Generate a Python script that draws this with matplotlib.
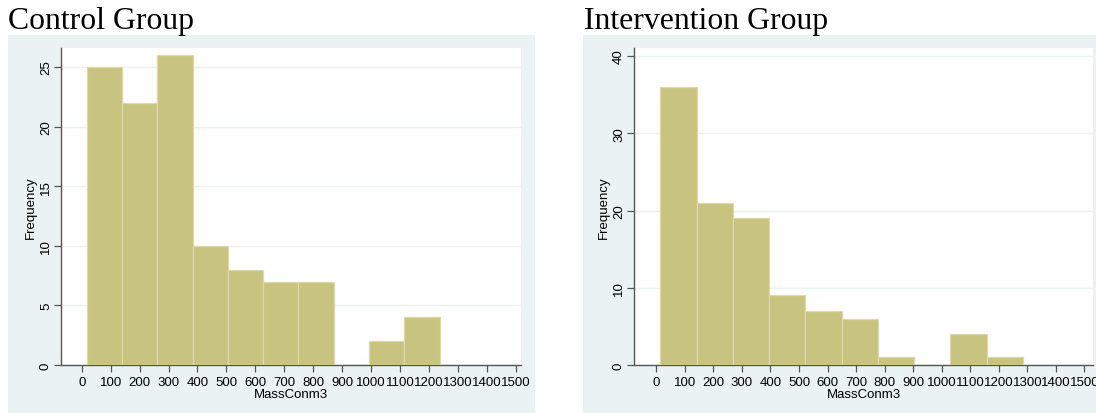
import matplotlib
matplotlib.use("Agg")
import matplotlib.pyplot as plt
import numpy as np
from matplotlib.patches import Rectangle

# histogram bins: first edge and bin width, then counts per bin
control_start = 17
control_width = 122
control_counts = [25, 22, 26, 10, 8, 7, 7, 0, 2, 4]

interv_start = 14
interv_width = 127
interv_counts = [36, 21, 19, 9, 7, 6, 1, 0, 4, 1]

x_ticks = list(range(0, 1600, 100))
control_yticks = [0, 5, 10, 15, 20, 25]
interv_yticks = [0, 10, 20, 30, 40]

BG = "#EAF2F3"
BAR = "#C9C380"
BAR_EDGE = "#DEDAA8"
AXIS = "#555555"
LABEL_SIZE = 9.5

plt.rcParams["font.family"] = ["Liberation Sans", "DejaVu Sans"]

fig = plt.figure(figsize=(10.96, 4.14), dpi=100)
W, H = 1096, 414


def px_rect(x0, y0, x1, y1):
    # pixel box (top-left origin) -> figure fraction [l, b, w, h]
    return [x0 / W, 1 - y1 / H, (x1 - x0) / W, (y1 - y0) / H]


def draw_panel(bg_box, ax_box, title, title_x, start, width, counts, yticks, xlim, ylim):
    l, b, w, h = px_rect(*bg_box)
    fig.patches.append(Rectangle((l, b), w, h, transform=fig.transFigure,
                                 facecolor=BG, edgecolor="none", zorder=-5))
    fig.text(title_x / W, 1 - 29 / H, title, family="Liberation Serif",
             fontsize=22.9, ha="left", va="baseline")

    ax = fig.add_axes(px_rect(*ax_box))
    ax.set_zorder(2)
    ax.set_facecolor("white")
    edges = start + width * np.arange(len(counts) + 1)
    ax.bar(edges[:-1], counts, width=width, align="edge", color=BAR,
           edgecolor=BAR_EDGE, linewidth=0.9, zorder=3)

    ax.set_xlim(*xlim)
    ax.set_ylim(*ylim)
    ax.set_xticks(x_ticks)
    ax.set_yticks(yticks)
    ax.set_yticklabels([str(t) for t in yticks], rotation=90, va="center")
    ax.yaxis.grid(True, color=BG, linewidth=1.0, zorder=0)
    ax.set_axisbelow(True)

    for s in ["top", "right"]:
        ax.spines[s].set_visible(False)
    for s in ["left", "bottom"]:
        ax.spines[s].set_color(AXIS)
        ax.spines[s].set_linewidth(1.0)
    ax.tick_params(axis="both", direction="out", length=5, width=0.9,
                   color=AXIS, labelsize=LABEL_SIZE, pad=3)
    ax.tick_params(axis="y", pad=1.5)
    ax.set_xlabel("MassConm3", fontsize=LABEL_SIZE, labelpad=0)
    ax.set_ylabel("Frequency", fontsize=LABEL_SIZE, labelpad=2.5)
    return ax


draw_panel((8, 36, 535, 414), (61, 49, 521, 366), "Control Group", 8,
           control_start, control_width, control_counts, control_yticks,
           (-71.5, 1518), (0, 26.6))
draw_panel((583, 36, 1096, 414), (634, 49, 1093, 366), "Intervention Group", 584,
           interv_start, interv_width, interv_counts, interv_yticks,
           (-78, 1530), (0, 41.05))

fig.savefig("out.png", dpi=100, facecolor="white")
